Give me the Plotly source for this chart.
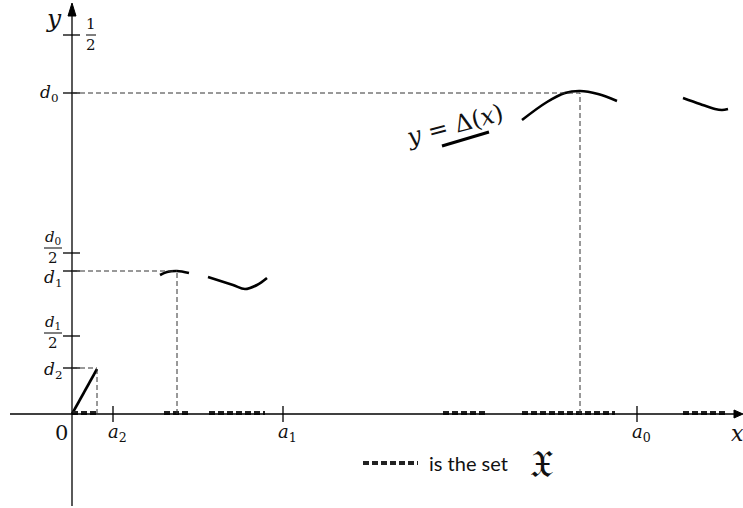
import plotly.graph_objects as go

# ---- data (units: origin at the axes' crossing) ----
y_tick_vals = [379, 321, 161, 143, 78, 46]      # 1/2, d0, d0/2, d1, d1/2, d2
x_tick_vals = [41, 211, 565]                      # a2, a1, a0
x_tick_labels = ["<i>a</i><sub>2</sub>", "<i>a</i><sub>1</sub>", "<i>a</i><sub>0</sub>"]

seg1_x = [0, 25];                    seg1_y = [0, 45]
seg2_x = [88, 95, 105, 117];         seg2_y = [139, 142, 143, 141]
seg3_x = [136, 161, 173, 185, 195];  seg3_y = [137, 129, 125, 129, 136]
seg4_x = [450, 475, 493, 508, 526, 545]; seg4_y = [294, 312, 321, 323, 320, 313]
seg5_x = [611, 628, 643, 650, 656];  seg5_y = [316, 310, 305, 304, 305]

set_intervals = [[0, 25], [92, 116], [137, 193], [371, 416], [450, 543], [611, 656]]

d0, d1, d2 = 321, 143, 46
x_d0, x_d1, x_d2 = 508, 105, 25

XMIN, XMAX, YMIN, YMAX = -72, 671, -94, 414

fig = go.Figure()
serif = "DejaVu Serif"
blk = "black"

# curves
for xs, ys in [(seg1_x, seg1_y), (seg2_x, seg2_y), (seg3_x, seg3_y), (seg4_x, seg4_y), (seg5_x, seg5_y)]:
    fig.add_trace(go.Scatter(x=xs, y=ys, mode="lines", line=dict(color=blk, width=2.6, shape="spline"),
                             hoverinfo="skip", showlegend=False))

# set X on the x axis
for a, b in set_intervals:
    fig.add_trace(go.Scatter(x=[a, b], y=[1, 1], mode="lines",
                             line=dict(color="#222", width=4, dash="6px,3px"),
                             hoverinfo="skip", showlegend=False))

shapes = []
# axes
shapes.append(dict(type="line", x0=-62, x1=668, y0=0, y1=0, line=dict(color=blk, width=1.3)))
shapes.append(dict(type="line", x0=0, x1=0, y0=-92, y1=404, line=dict(color=blk, width=1.3)))
shapes.append(dict(type="path", path="M -4,398 L 4,398 L 0,411 Z", fillcolor=blk, line=dict(color=blk, width=1)))
shapes.append(dict(type="path", path="M 662,-4 L 662,4 L 671,0 Z", fillcolor=blk, line=dict(color=blk, width=1)))
# y ticks
for v in y_tick_vals:
    shapes.append(dict(type="line", x0=-9, x1=8, y0=v, y1=v, line=dict(color=blk, width=1.3)))
# x ticks
for v in x_tick_vals:
    shapes.append(dict(type="line", x0=v, x1=v, y0=-8, y1=8, line=dict(color=blk, width=1.3)))
# dashed guides
dg = dict(color="#333", width=1, dash="5px,3px")
for (xe, yv) in [(x_d0, d0), (x_d1, d1), (x_d2, d2)]:
    shapes.append(dict(type="line", x0=0, x1=xe, y0=yv, y1=yv, line=dg))
    shapes.append(dict(type="line", x0=xe, x1=xe, y0=0, y1=yv, line=dg))
# underline under y = Δ(x)
shapes.append(dict(type="line", x0=370, x1=417, y0=268, y1=282, line=dict(color=blk, width=3)))

ann = []
def txt(x, y, t, size=17, fam=serif, xanchor="center", angle=0, color="#111"):
    ann.append(dict(x=x, y=y, xref="x", yref="y", text=t, showarrow=False, xanchor=xanchor,
                    yanchor="middle", textangle=angle, font=dict(family=fam, size=size, color=color)))

def frac(xc, yc, num, den, w=16):
    txt(xc, yc + 11, num, size=15)
    txt(xc, yc - 10, den, size=15)
    shapes.append(dict(type="line", x0=xc - w / 2, x1=xc + w / 2, y0=yc, y1=yc, line=dict(color=blk, width=1)))

txt(-18, 396, "<i>y</i>", size=25)
frac(19, 379, "1", "2", w=10)
txt(-23, d0, "<i>d</i><sub>0</sub>", size=17)
frac(-19, 166, "<i>d</i><sub>0</sub>", "2", w=18)
txt(-19, 136, "<i>d</i><sub>1</sub>", size=17)
frac(-19, 81, "<i>d</i><sub>1</sub>", "2", w=18)
txt(-19, 44, "<i>d</i><sub>2</sub>", size=17)
txt(-11, -19, "0", size=21)
for v, lab in zip(x_tick_vals, x_tick_labels):
    txt(v + 4, -19, lab, size=18)
txt(665, -19, "<i>x</i>", size=22)
txt(383, 289, "<i>y</i> = Δ(<i>x</i>)", size=24, angle=-15)

# legend-like key
fig.add_trace(go.Scatter(x=[291, 346], y=[-49, -49], mode="lines",
                         line=dict(color="#222", width=4, dash="6px,3px"),
                         hoverinfo="skip", showlegend=False))
txt(355, -49, "is the set", size=20, fam="Lato", xanchor="left")
txt(469, -50, "𝔛", size=38, fam="DejaVu Serif")

fig.update_layout(width=743, height=508, margin=dict(l=0, r=0, t=0, b=0),
                  paper_bgcolor="white", plot_bgcolor="white",
                  xaxis=dict(range=[XMIN, XMAX], visible=False, fixedrange=True),
                  yaxis=dict(range=[YMIN, YMAX], visible=False, fixedrange=True),
                  shapes=shapes, annotations=ann, showlegend=False)
fig.write_html("out.html")
